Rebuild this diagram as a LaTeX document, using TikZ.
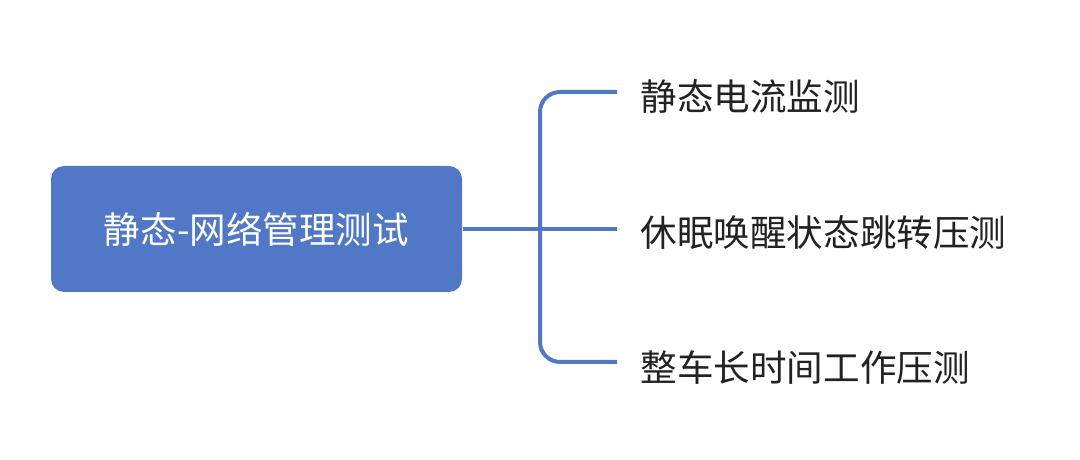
\documentclass[tikz,border=0pt]{standalone}
\usepackage{fontspec}
\usepackage{xcolor}
\newfontfamily\cjk{Noto Sans CJK SC}
\definecolor{mapblue}{HTML}{5078C6}
\definecolor{maptext}{HTML}{222222}

\begin{document}
\begin{tikzpicture}[
        rootbox/.style={fill=mapblue, rounded corners=0.13cm, minimum width=4.11cm, minimum height=1.26cm, text=white, font=\cjk\fontsize{10.4pt}{12pt}\selectfont},
        leaf/.style={anchor=west, inner sep=0pt, text=maptext, font=\cjk\fontsize{10.4pt}{12pt}\selectfont},
        branch/.style={draw=mapblue, line width=0.04cm, rounded corners=0.2cm}
    ]
        \useasboundingbox (0,0) rectangle (10.8,4.6);
        \node[rootbox] (root) at (2.565,2.31) {静态-网络管理测试};

        \coordinate (fork) at (5.40,2.31);
        \coordinate (b1) at (6.17,3.68);
        \coordinate (b2) at (6.17,2.31);
        \coordinate (b3) at (6.17,0.98);

        \node[leaf] (leafa) at (6.40,3.63) {静态电流监测};
        \node[leaf] (leafb) at (6.40,2.27) {休眠唤醒状态跳转压测};
        \node[leaf] (leafc) at (6.40,0.92) {整车长时间工作压测};

        \draw[branch] (root.east) -- (b2);
        \draw[branch] (fork) |- (b1);
        \draw[branch] (fork) |- (b3);
    \end{tikzpicture}
\end{document}
